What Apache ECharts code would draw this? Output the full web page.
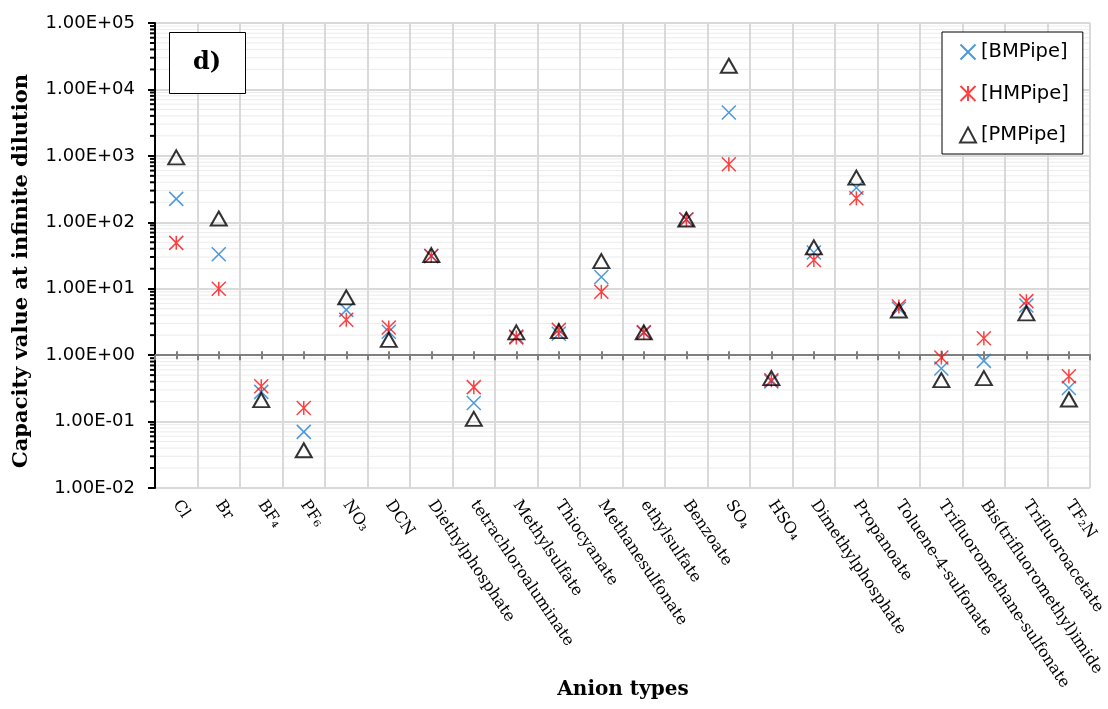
<!DOCTYPE html>
<html>
<head>
<meta charset="utf-8">
<script src="https://cdn.jsdelivr.net/npm/echarts@6/dist/echarts.min.js"></script>
<style>
html,body{margin:0;padding:0;background:#fff;}
#chart{width:1108px;height:709px;}
</style>
</head>
<body>
<div id="chart"></div>
<script>
// ---- data ----
const categories = ['Cl','Br','BF\u2084','PF\u2086','NO\u2083','DCN','Diethylphosphate','tetrachloroaluminate','Methylsulfate','Thiocyanate','Methanesulfonate','ethylsulfate','Benzoate','SO\u2084','HSO\u2084','Dimethylphosphate','Propanoate','Toluene-4-sulfonate','Trifluoromethane-sulfonate','Bis(trifluoromethyl)imide','Trifluoroacetate','TF\u2082N'];
const BMPipe = [225, 33, 0.28, 0.070, 4.8, 2.25, 31, 0.19, 1.9, 2.1, 15, 2.2, 110, 4500, 0.40, 35, 330, 5.0, 0.63, 0.82, 5.6, 0.32];
const HMPipe = [49, 10, 0.34, 0.16, 3.4, 2.6, 31, 0.33, 1.85, 2.4, 9.0, 2.2, 110, 750, 0.42, 27, 230, 5.4, 0.92, 1.8, 6.5, 0.48];
const PMPipe = [950, 114, 0.21, 0.037, 7.4, 1.7, 32, 0.11, 2.2, 2.3, 26, 2.2, 110, 22700, 0.45, 42, 470, 4.7, 0.42, 0.45, 4.25, 0.215];
const yMin = 0.01, yMax = 100000;
const seriesNames = ['[BMPipe]', '[HMPipe]', '[PMPipe]'];

// minor log tick values (axis structure: 2..9 x each decade)
const minorTicks = [];
for (let e = Math.log10(yMin); e < Math.log10(yMax); e++) {
  for (let m = 2; m <= 9; m++) minorTicks.push([0, m * Math.pow(10, e)]);
}

function fmtE(v) {
  const e = Math.round(Math.log10(v));
  const m = v / Math.pow(10, e);
  const s = e < 0 ? '-' : '+';
  const a = Math.abs(e);
  return m.toFixed(2) + 'E' + s + (a < 10 ? '0' + a : a);
}

const gridTop = 23, gridBottomPx = 488, gridLeft = 155, gridRight = 1092;
const gridH = gridBottomPx - gridTop;
const oneOffset = -gridH * (Math.log10(1) - Math.log10(yMin)) / (Math.log10(yMax) - Math.log10(yMin));

const chart = echarts.init(document.getElementById('chart'), null, {renderer: 'canvas'});
const serif = 'DejaVu Serif';
const sans = 'DejaVu Sans';
const blue = '#1f80d2', red = '#ff1010';

const option = {
  animation: false,
  backgroundColor: '#fff',
  grid: {left: gridLeft, right: 1108 - gridRight, top: gridTop, bottom: 709 - gridBottomPx, containLabel: false},
  legend: {
    orient: 'vertical', left: 942, top: 32,
    data: seriesNames,
    backgroundColor: '#fff', borderColor: '#000', borderWidth: 1,
    padding: [10, 14, 9, 17], itemGap: 21.5, itemWidth: 16, itemHeight: 15,
    textStyle: {fontFamily: sans, fontSize: 19.5, color: '#000', lineHeight: 20},
    selectedMode: false
  },
  xAxis: [
    {
      type: 'category', data: categories, position: 'bottom',
      axisLine: {show: false}, axisTick: {show: false},
      splitLine: {show: true, interval: 0, lineStyle: {color: '#d9d9d9', width: 2}},
      axisLabel: {interval: 0, rotate: -56, margin: 14, fontFamily: serif, fontSize: 16, color: '#000'}
    },
    {
      type: 'category', data: categories, position: 'bottom', offset: oneOffset,
      axisLine: {show: true, lineStyle: {color: '#7f7f7f', width: 2}},
      axisTick: {show: true, interval: 0, length: 5, lineStyle: {color: '#7f7f7f', width: 2}},
      axisLabel: {show: false}, splitLine: {show: false}
    },
    {
      type: 'category', data: categories, position: 'bottom', offset: oneOffset - 4,
      axisLine: {show: false},
      axisTick: {show: true, interval: 0, alignWithLabel: true, length: 8, lineStyle: {color: '#7f7f7f', width: 2}},
      axisLabel: {show: false}, splitLine: {show: false}
    }
  ],
  yAxis: {
    type: 'log', logBase: 10, min: yMin, max: yMax, splitNumber: 7,
    axisLine: {show: true, lineStyle: {color: '#000', width: 2}},
    axisTick: {show: true, length: 7, lineStyle: {color: '#000', width: 2}},
    splitLine: {show: true, lineStyle: {color: '#d9d9d9', width: 2}},
    axisLabel: {formatter: fmtE, margin: 20, fontFamily: sans, fontSize: 18, color: '#000'}
  },
  graphic: [
    {type: 'rect', left: 169, top: 32, shape: {width: 76, height: 61}, style: {fill: '#fff', stroke: '#000', lineWidth: 1}, z: 100},
    {type: 'text', x: 207, y: 63, style: {text: 'd)', font: 'bold 24px "DejaVu Serif"', fill: '#000', textAlign: 'center', textVerticalAlign: 'middle'}, z: 101},
    {type: 'text', x: 22, y: 271, rotation: Math.PI / 2, style: {text: 'Capacity value at infinite dilution', font: 'bold 21px "DejaVu Serif"', fill: '#000', textAlign: 'center', textVerticalAlign: 'middle'}, z: 101},
    {type: 'text', x: 623, y: 690, style: {text: 'Anion types', font: 'bold 20px "DejaVu Serif"', fill: '#000', textAlign: 'center', textVerticalAlign: 'middle'}, z: 101}
  ],
  series: [
    {
      type: 'custom', name: 'minor', z: -1, silent: true,
      data: minorTicks, encode: {x: 0, y: 1},
      renderItem: function (params, api) {
        const y = api.coord([0, api.value(1)])[1];
        const cs = params.coordSys;
        return {type: 'group', children: [
          {type: 'line', shape: {x1: cs.x, y1: y, x2: cs.x + cs.width, y2: y}, style: {stroke: '#ececec', lineWidth: 1}},
          {type: 'line', shape: {x1: cs.x - 5, y1: y, x2: cs.x, y2: y}, style: {stroke: '#000', lineWidth: 2}}
        ]};
      }
    },
    {
      type: 'scatter', name: seriesNames[0], data: BMPipe,
      symbol: 'path://M0 0L10 10M10 0L0 10', symbolSize: 14,
      itemStyle: {color: 'rgba(0,0,0,0)', borderColor: blue, borderWidth: 1.5}
    },
    {
      type: 'scatter', name: seriesNames[1], data: HMPipe,
      symbol: 'path://M0 0L10 10M10 0L0 10M5 0L5 10', symbolSize: 14,
      itemStyle: {color: 'rgba(0,0,0,0)', borderColor: red, borderWidth: 1.5}
    },
    {
      type: 'scatter', name: seriesNames[2], data: PMPipe,
      symbol: 'triangle', symbolSize: [16, 14],
      itemStyle: {color: 'rgba(0,0,0,0)', borderColor: '#000', borderWidth: 2}
    }
  ]
};
chart.setOption(option);
</script>
</body>
</html>
